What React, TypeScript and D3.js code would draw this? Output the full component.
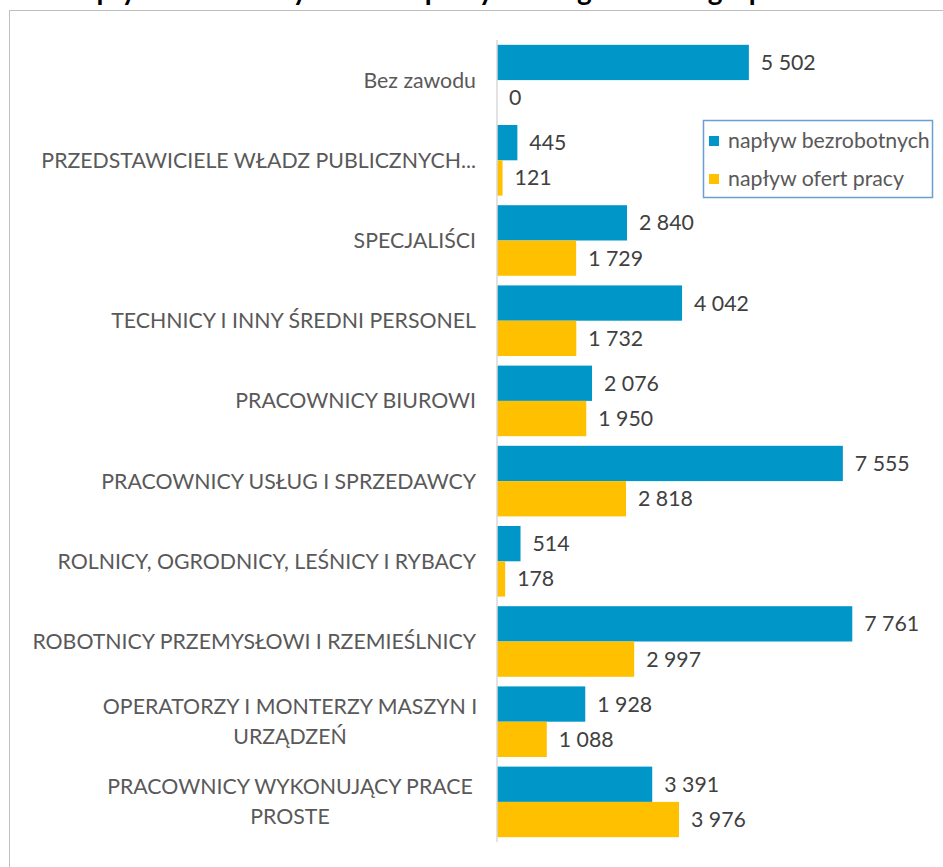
import React from "react";
import * as d3 from "d3";

const categories = [
  "Bez zawodu",
  "PRZEDSTAWICIELE WŁADZ PUBLICZNYCH...",
  "SPECJALIŚCI",
  "TECHNICY I INNY ŚREDNI PERSONEL",
  "PRACOWNICY BIUROWI",
  "PRACOWNICY USŁUG I SPRZEDAWCY",
  "ROLNICY, OGRODNICY, LEŚNICY I RYBACY",
  "ROBOTNICY PRZEMYSŁOWI I RZEMIEŚLNICY",
  "OPERATORZY I MONTERZY MASZYN I|URZĄDZEŃ",
  "PRACOWNICY WYKONUJĄCY PRACE|PROSTE",
];
const bezrobotni = [5502, 445, 2840, 4042, 2076, 7555, 514, 7761, 1928, 3391];
const oferty = [0, 121, 1729, 1732, 1950, 2818, 178, 2997, 1088, 3976];
const seriesNames = ["napływ bezrobotnych", "napływ ofert pracy"];
const seriesColors = ["#0096C8", "#FFC000"];
const title = "Napływ bezrobotnych i ofert pracy według wielkich grup zawodów";

const W = 943;
const H = 867;
const FONT = "Lato, 'Open Sans', sans-serif";
const FS = 21.3;

const fmt = (v: number) => d3.format(",")(v).replace(/,/g, " ");

export default function App() {
  const x = d3.scaleLinear().domain([0, 9000]).range([497, 909]);
  const y = d3
    .scaleBand<string>()
    .domain(categories)
    .range([40, 842])
    .paddingInner(0.12)
    .paddingOuter(0.06);
  const inner = d3
    .scaleBand<string>()
    .domain(seriesNames)
    .range([0, y.bandwidth()]);
  const data = [bezrobotni, oferty];

  return (
    <div style={{ position: "absolute", left: 0, top: 0 }}>
      <svg width={W} height={H} style={{ display: "block", fontFamily: FONT }}>
        <rect x={0} y={0} width={W} height={H} fill="#fff" />
        <text
          x={476}
          y={-0.5}
          textAnchor="middle"
          fontSize={28}
          fontWeight="bold"
          fill="#000"
        >
          {title}
        </text>
        <rect
          x={9.5}
          y={10.5}
          width={W + 20}
          height={H + 20}
          fill="none"
          stroke="#BFBFBF"
          strokeWidth={1}
        />
        {categories.map((c, i) => {
          const y0 = y(c)!;
          const cy = y0 + y.bandwidth() / 2;
          const lines = c.split("|");
          return (
            <g key={c}>
              {lines.length === 1 ? (
                <text
                  x={476}
                  y={cy}
                  dy="0.35em"
                  textAnchor="end"
                  fontSize={FS}
                  fill="#595959"
                >
                  {c}
                </text>
              ) : (
                lines.map((l, k) => (
                  <text
                    key={k}
                    x={290}
                    y={cy + (k - (lines.length - 1) / 2) * 30}
                    dy="0.35em"
                    textAnchor="middle"
                    fontSize={FS}
                    fill="#595959"
                  >
                    {l}
                  </text>
                ))
              )}
              {data.map((vals, s) => {
                const by = y0 + inner(seriesNames[s])!;
                const v = vals[i];
                return (
                  <g key={s}>
                    <rect
                      x={x(0)}
                      y={by}
                      width={x(v) - x(0)}
                      height={inner.bandwidth()}
                      fill={seriesColors[s]}
                    />
                    <text
                      x={x(v) + 12}
                      y={by + inner.bandwidth() / 2}
                      dy="0.35em"
                      fontSize={FS}
                      fill="#404040"
                    >
                      {fmt(v)}
                    </text>
                  </g>
                );
              })}
            </g>
          );
        })}
        <line x1={x(0)} x2={x(0)} y1={40} y2={842} stroke="#D9D9D9" strokeWidth={1.5} />
        <g>
          <rect
            x={703.5}
            y={120.5}
            width={229}
            height={77}
            fill="#fff"
            stroke="#6A9FD6"
            strokeWidth={1.5}
          />
          {seriesNames.map((n, s) => (
            <g key={n}>
              <rect x={709} y={136 + s * 38} width={10} height={10} fill={seriesColors[s]} />
              <text x={728} y={141 + s * 38} dy="0.35em" fontSize={FS} fill="#595959">
                {n}
              </text>
            </g>
          ))}
        </g>
      </svg>
    </div>
  );
}
